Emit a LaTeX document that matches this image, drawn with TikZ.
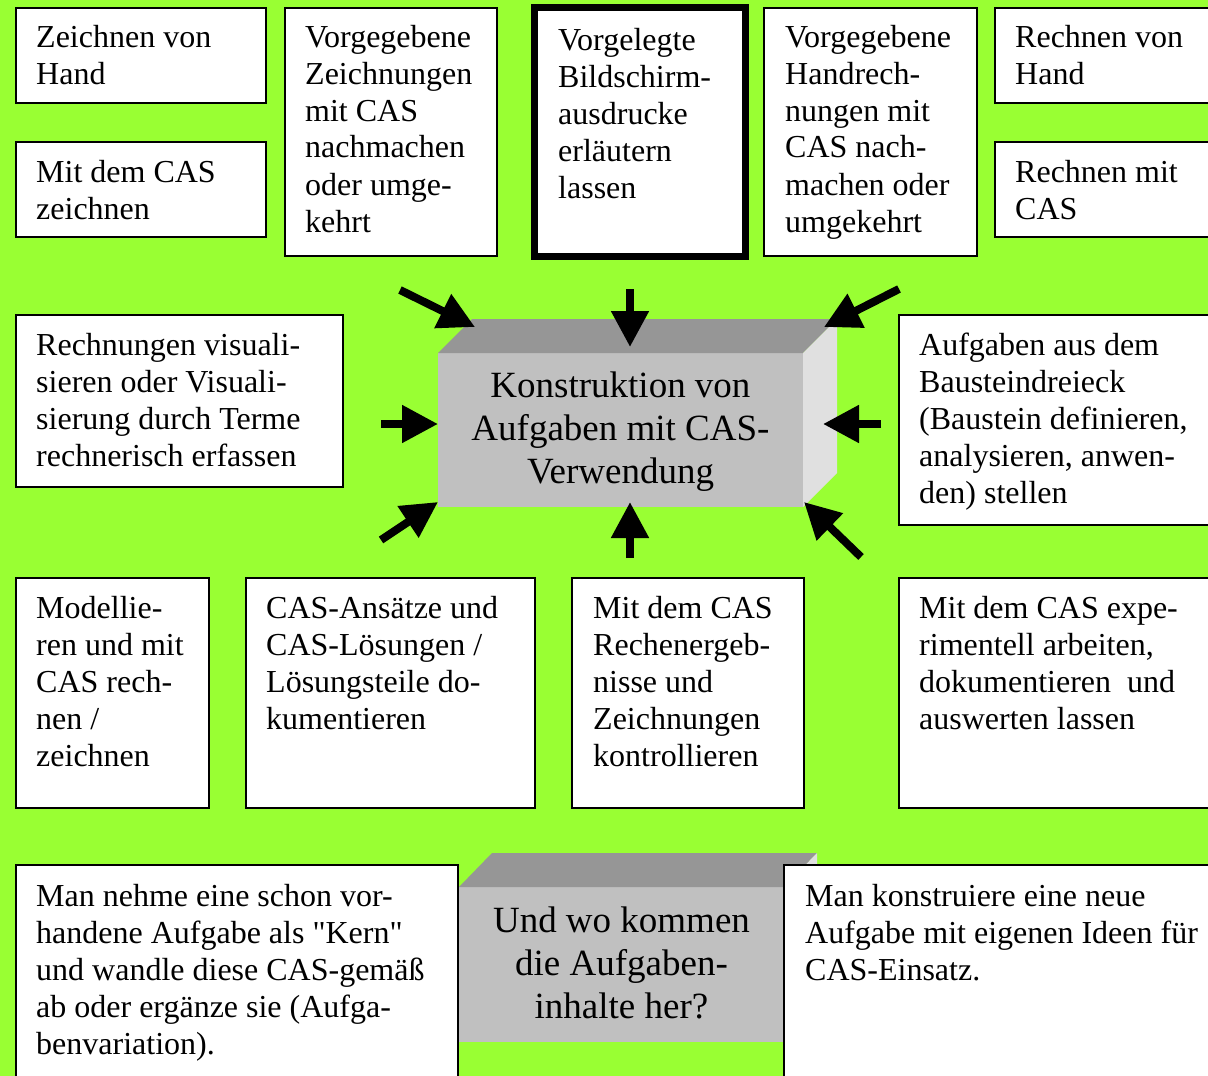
\documentclass[tikz,border=0pt]{standalone}
\usepackage{fontspec}
\setmainfont{Liberation Serif}[Ligatures=TeXOff]
\usetikzlibrary{arrows.meta}
\definecolor{bggreen}{HTML}{99FF33}
\definecolor{topgray}{HTML}{969696}
\definecolor{frontgray}{HTML}{C0C0C0}
\definecolor{sidegray}{HTML}{E0E0E0}
\begin{document}
\begin{tikzpicture}[x=1pt,y=-1pt,
  box/.style={draw=black, fill=white, line width=2pt, anchor=north west, inner sep=0pt, outer sep=0pt},
  txt/.style={anchor=base west, inner sep=0pt, text width=520pt, align=flush left, font=\fontsize{32pt}{37pt}\selectfont},
  ctxt/.style={anchor=base, inner sep=0pt, text width=400pt, align=flush center, font=\fontsize{37pt}{43pt}\selectfont},
  front/.style={fill=frontgray, anchor=north west, inner sep=0pt, outer sep=0pt},
  arr/.style={line width=8pt, -{Triangle[length=36pt,width=36pt]}}
]
\useasboundingbox (0,0) rectangle (1208,1076);
\clip (0,0) rectangle (1208,1076);
\fill[bggreen] (0,0) rectangle (1208,1076);

% top row
\node[box, minimum width=250pt, minimum height=95pt] (a) at (16,8) {};
\node[box, minimum width=250pt, minimum height=95pt] (b) at (16,142) {};
\node[box, minimum width=212pt, minimum height=248pt] (c) at (285,8) {};
\node[box, line width=7pt, minimum width=211pt, minimum height=249pt] (d) at (534.5,7.5) {};
\node[box, minimum width=213pt, minimum height=248pt] (e) at (764,8) {};
\node[box, minimum width=230pt, minimum height=95pt] (f) at (995,8) {};
\node[box, minimum width=230pt, minimum height=95pt] (g) at (995,142) {};

\node[txt] (ta) at (36,47) {Zeichnen von\\Hand};
\node[txt] (tb) at (36,182) {Mit dem CAS\\zeichnen};
\node[txt] (tc) at (305,47) {Vorgegebene\\Zeichnungen\\mit CAS\\nachmachen\\oder umge-\\kehrt};
\node[txt] (td) at (558,50) {Vorgelegte\\Bildschirm-\\ausdrucke\\erläutern\\lassen};
\node[txt] (te) at (785,47) {Vorgegebene\\Handrech-\\nungen mit\\CAS nach-\\machen oder\\umgekehrt};
\node[txt] (tf) at (1015,47) {Rechnen von\\Hand};
\node[txt] (tg) at (1015,182) {Rechnen mit\\CAS};

% middle row
\node[box, minimum width=327pt, minimum height=172pt] (h) at (16,315) {};
\node[box, minimum width=330pt, minimum height=210pt] (i) at (899,315) {};
\node[txt] (th) at (36,355) {Rechnungen visuali-\\sieren oder Visuali-\\sierung durch Terme\\rechnerisch erfassen};
\node[txt] (ti) at (919,355) {Aufgaben aus dem\\Bausteindreieck\\(Baustein definieren,\\analysieren, anwen-\\den) stellen};

% central 3D box
\node[front, minimum width=365pt, minimum height=154pt] (kon) at (438,353) {};
\fill[topgray] (kon.north west) -- ++(34,-34) -- ([shift={(34,-34)}]kon.north east) -- (kon.north east) -- cycle;
\fill[sidegray] (kon.north east) -- ++(34,-34) -- ++(0,154) -- (kon.south east) -- cycle;
\node[ctxt] (tkon) at (620.5,397) {Konstruktion von\\Aufgaben mit CAS-\\Verwendung};

% arrows
\coordinate (s1) at (400,290); \coordinate (e1) at (475,327);
\coordinate (s2) at (630,289); \coordinate (e2) at (630,347);
\coordinate (s3) at (899,289); \coordinate (e3) at (824,327);
\coordinate (s4) at (381,424); \coordinate (e4) at (438,424);
\coordinate (s5) at (881,424); \coordinate (e5) at (823,424);
\coordinate (s6) at (381,540); \coordinate (e6) at (438,502);
\coordinate (s7) at (630,558); \coordinate (e7) at (630,502);
\coordinate (s8) at (861,557); \coordinate (e8) at (804,502);
\foreach \k in {1,...,8} {\draw[arr] (s\k) -- (e\k);}

% lower row
\node[box, minimum width=193pt, minimum height=230pt] (j) at (16,578) {};
\node[box, minimum width=289pt, minimum height=230pt] (k) at (246,578) {};
\node[box, minimum width=232pt, minimum height=230pt] (l) at (572,578) {};
\node[box, minimum width=330pt, minimum height=230pt] (m) at (899,578) {};
\node[txt] (tj) at (36,618) {Modellie-\\ren und mit\\CAS rech-\\nen /\\zeichnen};
\node[txt] (tk) at (266,618) {CAS-Ansätze und\\CAS-Lösungen /\\Lösungsteile do-\\kumentieren};
\node[txt] (tl) at (593,618) {Mit dem CAS\\Rechenergeb-\\nisse und\\Zeichnungen\\kontrollieren};
\node[txt] (tm) at (919,618) {Mit dem CAS expe-\\rimentell arbeiten,\\dokumentieren~ und\\auswerten lassen};

% bottom 3D box
\node[front, minimum width=325pt, minimum height=155pt] (und) at (459,887) {};
\fill[topgray] (und.north west) -- ++(33,-34) -- ([shift={(33,-34)}]und.north east) -- (und.north east) -- cycle;
\fill[sidegray] (und.north east) -- ++(33,-34) -- ++(0,155) -- (und.south east) -- cycle;
\node[ctxt] (tund) at (621.5,932) {Und wo kommen\\die Aufgaben-\\inhalte her?};

\node[box, minimum width=442pt, minimum height=230pt] (n) at (16,865) {};
\node[box, minimum width=440pt, minimum height=230pt] (o) at (784,865) {};
\node[txt] (tn) at (36,906) {Man nehme eine schon vor-\\handene Aufgabe als "Kern"\\und wandle diese CAS-gemäß\\ab oder ergänze sie (Aufga-\\benvariation).};
\node[txt] (to) at (805,906) {Man konstruiere eine neue\\Aufgabe mit eigenen Ideen für\\CAS-Einsatz.};
\end{tikzpicture}
\end{document}
